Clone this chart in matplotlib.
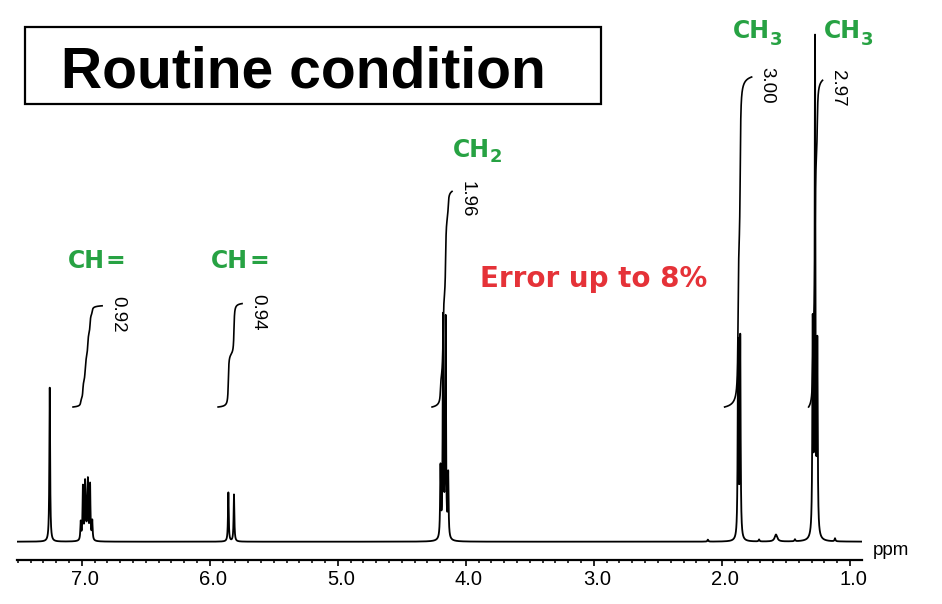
import numpy as np
import matplotlib.pyplot as plt
import matplotlib.transforms as mtransforms
from matplotlib.patches import Rectangle
from matplotlib.ticker import MultipleLocator, FormatStrFormatter

# Peak list: shift (ppm), height (px above baseline)
solvent_ppm = [7.25]
solvent_h = [154]

ch_a_ppm = [7.008, 6.991, 6.974, 6.969, 6.957, 6.952, 6.935, 6.918]
ch_a_h = [18, 53, 52, 17, 17, 54, 55, 19]

ch_b_ppm = [5.855, 5.811]
ch_b_h = [49, 47]

ch2_ppm = [4.198, 4.178, 4.158, 4.138]
ch2_h = [70, 220, 218, 63]

ch3_a_ppm = [1.874, 1.857]
ch3_a_h = [196, 200]

ch3_b_ppm = [1.291, 1.273, 1.255]
ch3_b_h = [208, 493, 186]

small_ppm = [2.11, 1.71, 1.578, 1.43, 1.117]
small_h = [2, 2, 7, 2, 3]
small_w = [0.004, 0.004, 0.012, 0.004, 0.004]

# integrals: value, region start / end (ppm)
int_values = [0.92, 0.94, 1.96, 3.00, 2.97]
int_from = [7.068, 5.935, 4.264, 1.979, 1.323]
int_to = [6.841, 5.748, 4.108, 1.768, 1.214]
int_labels = ["0.92", "0.94", "1.96", "3.00", "2.97"]

W, H = 942, 604
fig = plt.figure(figsize=(W / 100, H / 100), dpi=100)

def fx(x):
    return x / W

def fy(y):
    return 1 - y / H

ax = fig.add_axes([fx(16.7), fy(560), (862 - 16.7) / W, 560 / H])
ax.set_xlim(7.508, 0.906)
ax.set_ylim(0, 560)

ppm = np.linspace(7.508, 0.906, 40000)
gamma = 0.0035
baseline = 18.3

sharp_ppm = solvent_ppm + ch_a_ppm + ch_b_ppm + ch2_ppm + ch3_a_ppm + ch3_b_ppm
sharp_h = solvent_h + ch_a_h + ch_b_h + ch2_h + ch3_a_h + ch3_b_h

peaks = np.zeros_like(ppm)
for p, h in zip(sharp_ppm, sharp_h):
    peaks += h * gamma**2 / (gamma**2 + (ppm - p) ** 2)
for p, h, w in zip(small_ppm, small_h, small_w):
    peaks += h * w**2 / (w**2 + (ppm - p) ** 2)

ax.plot(ppm, baseline + peaks, color="k", lw=1.3)

# integral curves
int_base = 153
int_scale = 110
for v, a, b, lab in zip(int_values, int_from, int_to, int_labels):
    m = (ppm <= a) & (ppm >= b)
    c = np.cumsum(peaks[m])
    c = c / c[-1]
    ax.plot(ppm[m], int_base + v * int_scale * c, color="k", lw=1.2)
    ax.annotate(lab, xy=(b, int_base + v * int_scale), xytext=(11, -6),
                textcoords="offset points", rotation=-90, ha="center", va="center",
                fontsize=13.5, family="Liberation Sans")

# axis styling
for s in ["left", "right", "top"]:
    ax.spines[s].set_visible(False)
ax.spines["bottom"].set_linewidth(1.6)
ax.set_yticks([])
ax.xaxis.set_major_locator(MultipleLocator(1.0))
ax.xaxis.set_minor_locator(MultipleLocator(0.1))
ax.xaxis.set_major_formatter(FormatStrFormatter("%.1f"))
ax.tick_params(axis="x", which="major", direction="out", length=4, width=1.2, pad=3.5,
               labelsize=14.5)
ax.tick_params(axis="x", which="minor", direction="out", length=2.4, width=1.1)
offset = mtransforms.ScaledTranslation(3 / 100, 0, fig.dpi_scale_trans)
for lbl in ax.get_xticklabels():
    lbl.set_fontfamily("Liberation Sans")
    lbl.set_transform(lbl.get_transform() + offset)

fig.text(fx(873), fy(555), "ppm", fontsize=13.5, family="Liberation Sans", va="baseline")

# title box
fig.patches.append(Rectangle((fx(25), fy(104)), 576 / W, 77 / H, transform=fig.transFigure,
                             fill=False, lw=1.6, ec="k"))
fig.text(fx(61), fy(88), "Routine condition", fontsize=41, fontweight="bold",
         family="Liberation Sans", va="baseline")

green = "#27a243"
red = "#e53238"
lab_kw = dict(color=green, fontweight="bold", family="DejaVu Sans", va="baseline")

for x0 in [68, 211]:
    fig.text(fx(x0), fy(268), "CH", fontsize=17, **lab_kw)
    fig.text(fx(x0 + 38), fy(268), "=", fontsize=17, **lab_kw)

fig.text(fx(453), fy(157), "CH", fontsize=17, **lab_kw)
fig.text(fx(490), fy(162), "2", fontsize=13, **lab_kw)

fig.text(fx(733), fy(38), "CH", fontsize=17, **lab_kw)
fig.text(fx(770), fy(45), "3", fontsize=13, **lab_kw)
fig.text(fx(824), fy(38), "CH", fontsize=17, **lab_kw)
fig.text(fx(861), fy(45), "3", fontsize=13, **lab_kw)

fig.text(fx(480), fy(287), "Error up to 8%", fontsize=20, color=red, fontweight="bold",
         family="DejaVu Sans", va="baseline")

fig.savefig("out.png", dpi=100)
